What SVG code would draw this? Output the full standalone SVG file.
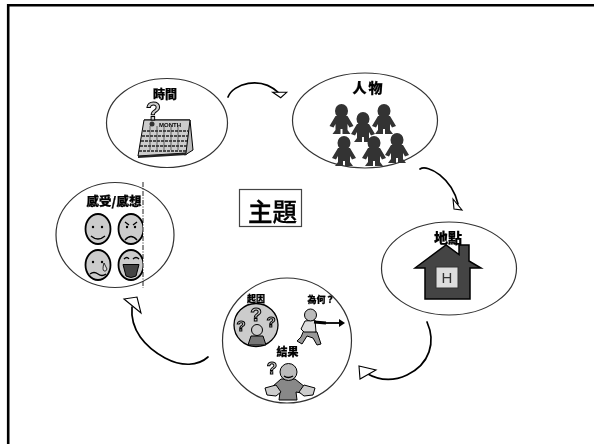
<svg xmlns="http://www.w3.org/2000/svg" width="594" height="444" viewBox="0 0 594 444">
<defs>
<style>
.e{fill:#fff;stroke:#333;stroke-width:1.2}
.c{fill:none;stroke:#000;stroke-width:1.7;stroke-linecap:round}
.h{fill:#fff;stroke:#000;stroke-width:1.1}
.l{font-family:"Noto Sans CJK TC","Noto Sans CJK SC",sans-serif;font-weight:900;fill:#000;stroke:#000;stroke-width:.25;text-anchor:middle}
.p{fill:#333}
.f{fill:#ccc;stroke:#000;stroke-width:1.8}
.s{fill:none;stroke:#000;stroke-width:1.300}
.q{font-family:"Liberation Sans",sans-serif;font-weight:700;text-anchor:middle;fill:#ccc;stroke:#000;stroke-width:1}
</style>
<g id="person"><ellipse cx="0" cy="-8" rx="6.500" ry="7"/><path d="M-6-3H6L12 7 8 8.500 6 5V11L9 15H1V10H-1V15H-9L-6 11V5L-8 8.500-12 7Z"/></g>
<clipPath id="faceclip"><rect x="60" y="200" width="83" height="90"/></clipPath>
</defs>
<rect width="594" height="444" fill="#fff"/>
<path d="M8.200 444V5.200H594" fill="none" stroke="#000" stroke-width="2.600"/>

<g opacity=".999">
<g id="time">
<ellipse class="e" cx="167" cy="123" rx="60.500" ry="44.500"/>
<text class="l" x="165" y="99" font-size="12">時間</text>
<path d="M144 120H190L193 150 185 155 180 152Z" fill="#bbb" stroke="#000"/>
<path d="M144 120H190L186 153 138 156Z" fill="#ccc" stroke="#000"/>
<path d="M138 156L186 153 187 155 138 158Z" fill="#222"/>
<path d="M143 131H188M142 136H188M141 141H187M140 146H187M139 151H186" stroke="#222" stroke-width="1.500" stroke-dasharray="3 1"/>
<path d="M150 126V150M157 126V150M164 126V150M171 126V150M178 126V150" stroke="#333" stroke-width=".7"/>
<circle cx="152" cy="124" r="2.500" fill="#333"/>
<text x="170" y="126.500" font-family="Liberation Sans,sans-serif" font-weight="700" font-size="6" text-anchor="middle">MONTH</text>
<text class="q" x="153.500" y="119.500" font-size="25">?</text>
</g>

<g id="people">
<ellipse class="e" cx="365" cy="120.500" rx="72.500" ry="47.500"/>
<text class="l" x="368.500" y="93" font-size="14" letter-spacing="2">人物</text>
<g class="p">
<use href="#person" x="341.500" y="119"/><use href="#person" x="363" y="127"/><use href="#person" x="384" y="119"/>
<use href="#person" x="344" y="151"/><use href="#person" x="374" y="151"/><use href="#person" x="397" y="148"/>
</g>
</g>

<g id="place">
<ellipse class="e" cx="449" cy="268.500" rx="67.500" ry="46.500"/>
<text class="l" x="448" y="243" font-size="14">地點</text>
<path d="M415 268L446 245 459 254.500V245H469V261L481 268H470V299H425V268Z" fill="#444" stroke="#000" stroke-width="1.500"/>
<rect x="436" y="267" width="22" height="21" fill="#ddd" stroke="#333"/>
<text x="447" y="283" font-family="Liberation Sans,sans-serif" font-size="15" text-anchor="middle" fill="#333">H</text>
</g>

<g id="result">
<ellipse class="e" cx="287" cy="340.500" rx="64.500" ry="62.500"/>
<text class="l" x="256" y="302" font-size="9">起因</text>
<text class="l" x="321" y="302.500" font-size="9">為何？</text>
<ellipse cx="256" cy="325" rx="22" ry="21.500" fill="#ccc" stroke="#000" stroke-width="1.300"/>
<text class="q" x="256" y="321" font-size="19">?</text>
<text class="q" x="241" y="331" font-size="15">?</text>
<text class="q" x="271" y="327" font-size="15">?</text>
<path d="M248 345L251 336H263L266 345Z" fill="#777" stroke="#000"/>
<circle cx="257" cy="330" r="5.500" fill="#ccc" stroke="#000"/>
<path d="M304 330L301 337 297 341 302 344 307 336 313 338 317 345 321 344 317 332Z" fill="#999" stroke="#000"/>
<path d="M305 321L315 320 316 332 304 332 301 329Z" fill="#ddd" stroke="#000"/>
<circle cx="310.500" cy="315" r="6" fill="#bbb" stroke="#000"/>
<path d="M314 322L326 323" stroke="#000" stroke-width="3"/>
<path d="M326 323H341" stroke="#000" stroke-width="1.800"/>
<path d="M339 319L345 323 339 327Z"/>
<text class="l" x="287.500" y="355.500" font-size="11">結果</text>
<text class="q" x="272" y="374" font-size="17">?</text>
<path d="M281 379H295L305 387 301 393 296 392 297 400H279L280 392 275 393 272 387Z" fill="#888" stroke="#000"/>
<circle cx="288.500" cy="372" r="8.500" fill="#bbb" stroke="#000"/>
<path d="M265 388L276 385 281 392 276 396 267 395ZM315 388L304 385 299 392 304 396 313 395Z" fill="#ccc" stroke="#000"/>
<path d="M284 376Q288 379 293 376" class="s" stroke-width=".8"/>
</g>

<g id="feeling">
<ellipse class="e" cx="115" cy="235" rx="59" ry="52.500"/>
<text class="l" x="114" y="206" font-size="12.500">感受/感想</text>
<path d="M143 182V288" fill="none" stroke="#222" stroke-dasharray="5 1.500 1 1.500"/>
<g clip-path="url(#faceclip)">
<ellipse class="f" cx="98" cy="229" rx="12.500" ry="15"/>
<ellipse class="f" cx="131" cy="229" rx="12.500" ry="15"/>
<ellipse class="f" cx="98" cy="265" rx="12.500" ry="15"/>
<ellipse class="f" cx="131" cy="265" rx="12.500" ry="15"/>
<path class="s" d="M91 236Q98 242 105 236M125 240Q131 233 137 240M90 274Q94 271 98 274T106 274M125 222L129 225M137 222L133 225M124 259Q127 256 129 259M133 259Q136 256 139 259"/>
<path d="M123 264.500H139L136 276Q131 279 126 276Z" fill="#444" stroke="#000"/>
<circle cx="93" cy="227" r="1.200"/><circle cx="102" cy="227" r="1.200"/><circle cx="127" cy="227" r="1.200"/><circle cx="135" cy="227" r="1.200"/>
<circle cx="93" cy="262" r="1.200"/><circle cx="102" cy="262" r="1.200"/>
<path d="M104 263L107 269Q106 272 104 271 102 270 104 263Z" fill="#ddd" stroke="#000" stroke-width=".8"/>
</g>
</g>

<g id="topic">
<rect x="239.500" y="189.500" width="62" height="37" fill="#fff" stroke="#444" stroke-width="1.200"/>
<text x="272.500" y="220.500" font-family="Noto Sans CJK TC,Noto Sans CJK SC,sans-serif" font-size="24.500" font-weight="500" stroke="#000" stroke-width=".3" text-anchor="middle">主題</text>
</g>
</g>

<g id="connectors">
<path class="c" d="M228 97C233 84 260 75 279 93"/>
<path class="h" d="M272.700 92.300H286.700L280.700 97.700Z"/>
<path class="c" d="M420 169C428 164 452 178 458 204"/>
<path class="h" d="M453 199L462 210 454 209Z"/>
<path class="c" d="M427 322C436 342 430 364 407 375 392 382 378 380 366 373"/>
<path class="h" d="M359 366L376 370 360 379Z"/>
<path class="c" d="M208 357C198 366 182 367 165 358 145 347 130 330 132 307"/>
<path class="h" d="M124 299L137 297 141 313Z"/>
</g>
</svg>
